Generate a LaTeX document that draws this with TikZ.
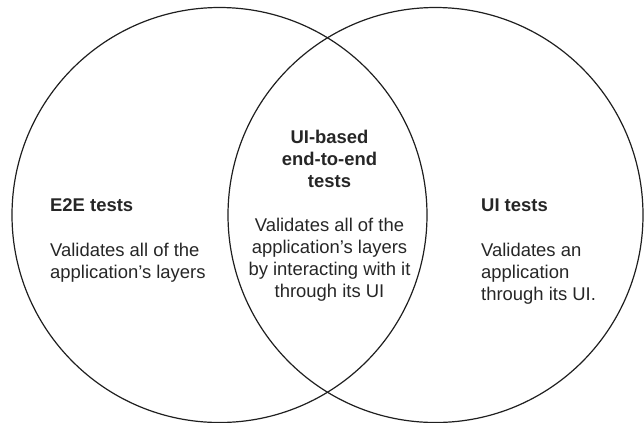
\documentclass[tikz,border=0pt]{standalone}
\usepackage{fontspec}
\setmainfont{Liberation Sans}
\tikzset{
  venn/.style={draw=black!88, line width=1.2bp, circle, minimum size=415bp, inner sep=0pt},
  blurb/.style={font=\fontsize{18.5}{21.8}\selectfont, text=black!85, inner sep=0pt},
}
\begin{document}
\begin{tikzpicture}[x=1bp, y=-1bp]
  \useasboundingbox (0,0) rectangle (644,422);
  % Circles
  \node[venn] (e2e) at (219.5,215) {};
  \node[venn] (ui) at (435.5,215) {};
  % Left set (anchored at the last line's baseline)
  \node[blurb, anchor=base west, align=left] (e2etext) at (50,278)
    {\textbf{E2E tests}\\[23pt]Validates all of the\\application’s layers};
  % Overlap
  \node[blurb, anchor=base, align=center] (bothtext) at (329.5,297)
    {\textbf{UI-based}\\\textbf{end-to-end}\\\textbf{tests}\\[23pt]Validates all of the\\application’s layers\\by interacting with it\\through its UI};
  % Right set
  \node[blurb, anchor=base west, align=left] (uitext) at (481,300)
    {\textbf{UI tests}\\[23pt]Validates an\\application\\through its UI.};
\end{tikzpicture}
\end{document}
